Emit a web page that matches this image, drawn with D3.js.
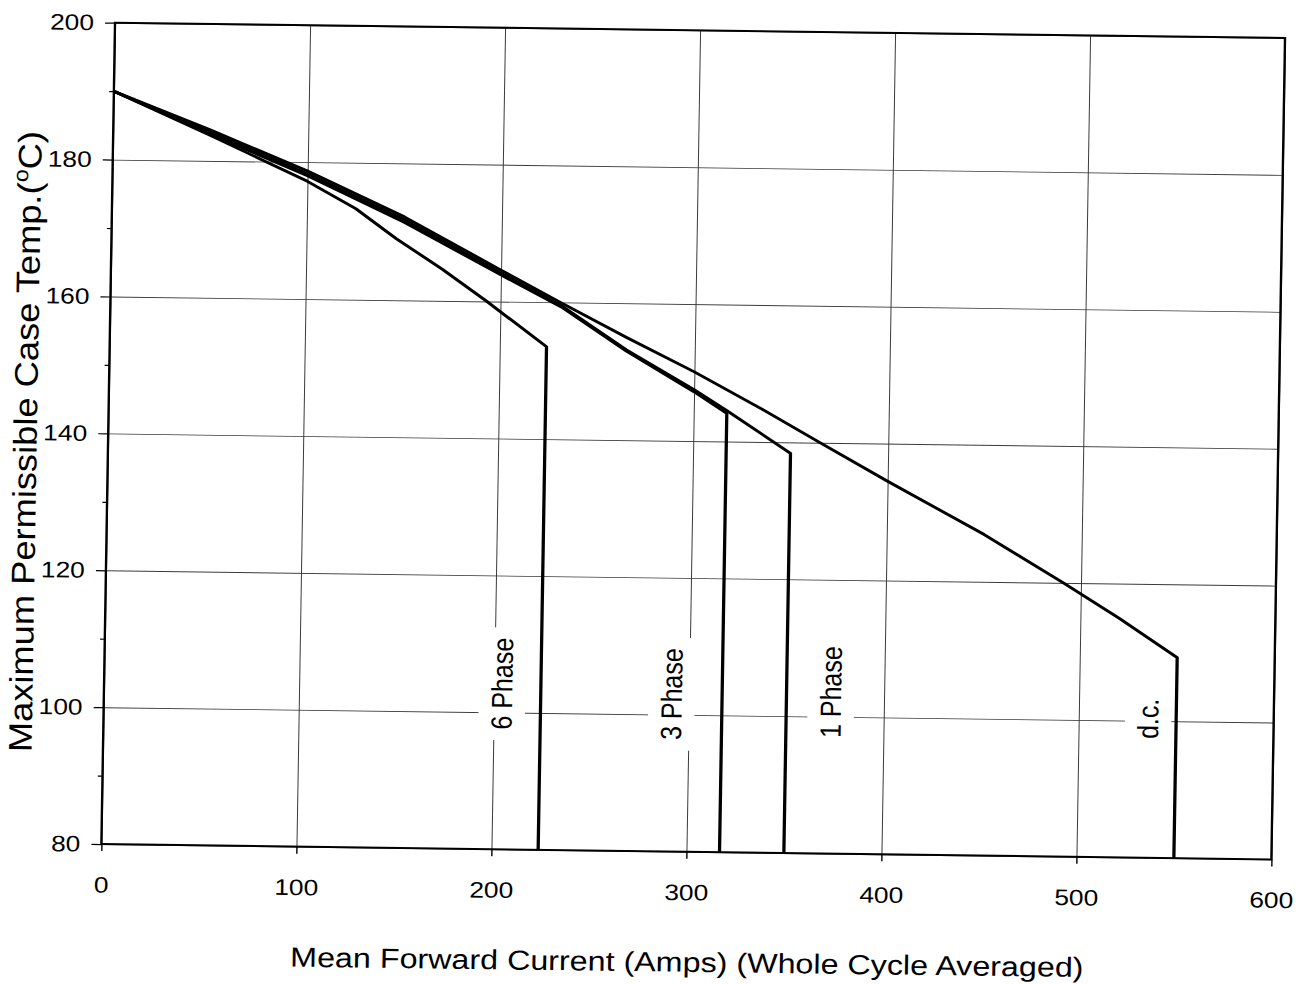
<!DOCTYPE html>
<html>
<head>
<meta charset="utf-8">
<script src="https://cdn.jsdelivr.net/npm/d3@7"></script>
<style>
body{margin:0;background:#fff;}
svg{display:block;font-family:"Liberation Sans",Arial,sans-serif;}
</style>
</head>
<body>
<div id="chart"></div>
<script>
// axis ticks
const xTicks = [0,100,200,300,400,500,600];
const yTicks = [80,100,120,140,160,180,200];
const yMinorTicks = [90,110,130,150,170,190];

// [mean forward current (A), max case temp (degC)]
const dcPoints = [[0,190],[50,184.5],[100,178.7],[150,172.2],[200,164.6],[230,160.1],[265,155.0],[300,150.1],[335,144.8],[365,140.0],[400,134.5],[450,126.9],[491,120.0],[520,114.9],[550,109.3],[550,80]];
const onePhasePoints = [[0,190],[50,184.2],[100,178.3],[150,171.8],[200,164.2],[232,159.4],[265,153.2],[300,147.5],[317,144.5],[350,138.4],[350,80]];
const threePhasePoints = [[0,190],[50,183.9],[100,178.0],[150,171.4],[200,163.9],[232,159.2],[265,153.0],[300,147.2],[317,144.1],[317,80]];
const sixPhasePoints = [[0,190],[50,183.7],[100,177.2],[125,173.3],[146,169.0],[170,164.6],[193,160.0],[224,153.5],[224,80]];

const curveLabels = [
	{text:"6 Phase", x:204.1, y:104.2},
	{text:"3 Phase", x:291.1, y:103.0},
	{text:"1 Phase", x:372.8, y:103.6},
	{text:"d.c.", x:535.6, y:100.3}
];

const W = 1309, H = 984;
const w = 1000, h = 821.4;

// scanned sheet: slightly rotated and stretched sideways
const sheet = "matrix(1.17,0.0153,-0.0166,1,115,22.7)";

const scaleX = d3.scaleLinear().domain([0,600]).range([0,w]);
const scaleY = d3.scaleLinear().domain([80,200]).range([h,0]);

const svg = d3.select("#chart")
			.append("svg")
			.attr("width",W)
			.attr("height",H);

svg.append("rect")
	.attr("width",W)
	.attr("height",H)
	.attr("fill","#fff");

const plot = svg.append("g")
			.attr("transform",sheet);

// grid
plot.append("g")
	.attr("class","grid grid-x")
	.attr("transform",`translate(0,${h})`)
	.call(d3.axisBottom(scaleX).tickValues(xTicks).tickSize(-h).tickFormat(""));
plot.append("g")
	.attr("class","grid grid-y")
	.call(d3.axisLeft(scaleY).tickValues(yTicks).tickSize(-w).tickFormat(""));
plot.selectAll(".grid .domain").remove();
plot.selectAll(".grid line")
	.attr("stroke","#3a3a3a")
	.attr("stroke-width",0.85);

// axes
plot.append("g")
	.attr("class","axis axis-x")
	.attr("transform",`translate(0,${h})`)
	.call(d3.axisBottom(scaleX).tickValues(xTicks).tickSize(7).tickPadding(25.5));
plot.append("g")
	.attr("class","axis axis-y")
	.call(d3.axisLeft(scaleY).tickValues(yTicks).tickSize(8.5).tickPadding(9.5));
plot.append("g")
	.attr("class","axis axis-y-minor")
	.call(d3.axisLeft(scaleY).tickValues(yMinorTicks).tickSize(4).tickFormat(""));
plot.selectAll(".axis .domain").remove();
plot.selectAll(".axis line")
	.attr("stroke","#000")
	.attr("stroke-width",1.2);
plot.selectAll(".axis text")
	.attr("fill","#000")
	.style("font-size","22.5px")
	.style("font-family","'Liberation Sans',Arial,sans-serif");

// curve labels with white boxes
curveLabels.forEach(d => {
	const g = plot.append("g")
				.attr("class","curve-label")
				.attr("transform",`translate(${scaleX(d.x)},${scaleY(d.y)}) rotate(-90)`);
	const rect = g.append("rect").attr("fill","#fff");
	const t = g.append("text")
				.attr("text-anchor","middle")
				.attr("dy","0.35em")
				.style("font-size","25px")
				.attr("fill","#000")
				.text(d.text);
	const bb = t.node().getBBox();
	rect.attr("x",bb.x-10.5)
		.attr("y",bb.y-5.6)
		.attr("width",bb.width+21)
		.attr("height",bb.height+11.2);
});

// curves
const lineGenerator = d3.line()
					.x(d => scaleX(d[0]))
					.y(d => scaleY(d[1]));

plot.selectAll(".curve")
	.data([dcPoints, onePhasePoints, threePhasePoints, sixPhasePoints])
	.enter()
	.append("path")
	.attr("class","curve")
	.attr("d",lineGenerator)
	.style("fill","none")
	.style("stroke","#000")
	.style("stroke-width","2.8px")
	.style("stroke-linejoin","round");

// plot frame
plot.append("rect")
	.attr("width",w)
	.attr("height",h)
	.style("fill","none")
	.style("stroke","#000")
	.style("stroke-width","2px");

// axis titles
plot.append("text")
	.attr("x",w/2+2)
	.attr("y",h+120)
	.attr("text-anchor","middle")
	.attr("textLength",678)
	.attr("lengthAdjust","spacingAndGlyphs")
	.style("font-size","27.5px")
	.attr("fill","#000")
	.text("Mean Forward Current (Amps) (Whole Cycle Averaged)");

const yTitle = plot.append("text")
	.attr("transform","translate(-61,420) rotate(-90)")
	.attr("text-anchor","middle")
	.attr("textLength",621)
	.attr("lengthAdjust","spacingAndGlyphs")
	.style("font-size","28px")
	.attr("fill","#000");
yTitle.append("tspan").text("Maximum Permissible Case Temp.(");
yTitle.append("tspan").attr("dy",-11).style("font-size","18px").text("o");
yTitle.append("tspan").attr("dy",11).text("C)");
</script>
</body>
</html>
